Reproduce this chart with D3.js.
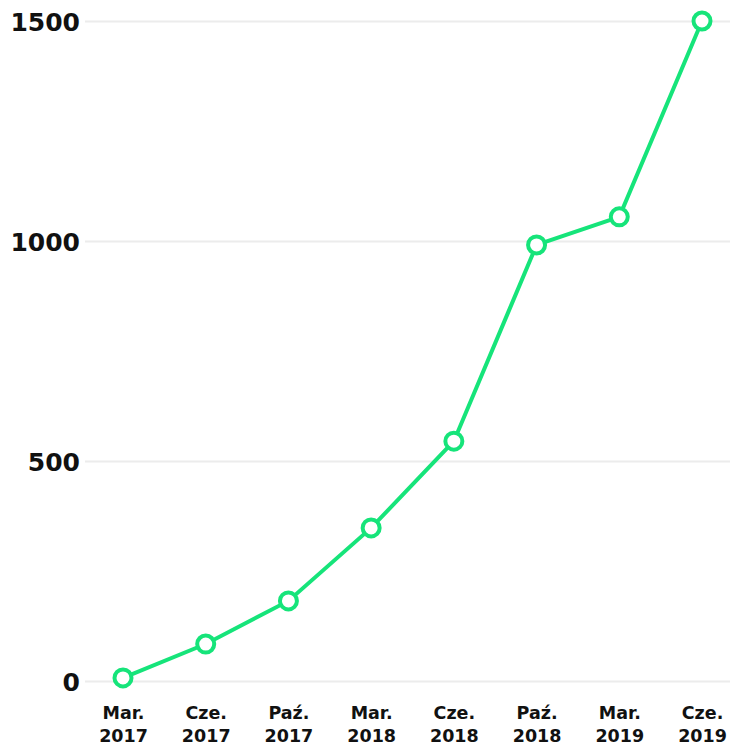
<!DOCTYPE html>
<html lang="pl">
<head>
<meta charset="utf-8">
<script src="https://d3js.org/d3.v7.min.js"></script>
<style>
  body, html { margin: 0; padding: 0; background: #fff; }
  svg { display: block; }
  .tick text { font-family: "DejaVu Sans", sans-serif; font-weight: bold; fill: #111; }
</style>
</head>
<body>
<svg id="chart" width="730" height="747"></svg>
<script>
var months = ["Mar.", "Cze.", "Paź.", "Mar.", "Cze.", "Paź.", "Mar.", "Cze."];
var years = ["2017", "2017", "2017", "2018", "2018", "2018", "2019", "2019"];
var values = [7, 84, 182, 348, 545, 991, 1055, 1500];
var yTicks = [0, 500, 1000, 1500];

var svg = d3.select("#chart");
var padLeft = 85, padRight = 730, padTop = 21, padBottom = 681;

var x = d3.scalePoint()
    .domain(d3.range(values.length))
    .range([123, 702]);
var y = d3.scaleLinear()
    .domain([0, 1500])
    .range([padBottom, padTop]);

// gridlines + y labels
var yAxis = svg.append("g")
    .attr("transform", "translate(" + padLeft + ",0)")
    .call(d3.axisRight(y).tickValues(yTicks).tickSize(padRight - padLeft).tickFormat(d3.format("d")));
yAxis.select(".domain").remove();
yAxis.selectAll(".tick line").attr("stroke", "#ececec").attr("stroke-width", 2);
yAxis.selectAll(".tick text")
    .attr("x", -5)
    .attr("dy", "0.38em")
    .attr("text-anchor", "end")
    .style("font-size", "25px");

// x labels
var xAxis = svg.append("g")
    .attr("transform", "translate(0," + padBottom + ")")
    .call(d3.axisBottom(x).tickSize(0).tickFormat(""));
xAxis.select(".domain").remove();
xAxis.selectAll(".tick text").remove();
xAxis.selectAll(".tick").each(function(d) {
    var t = d3.select(this).append("text")
        .attr("text-anchor", "middle")
        .style("font-size", "17.5px")
        .attr("fill", "#111");
    t.append("tspan").attr("x", 0).attr("y", 38).text(months[d]);
    t.append("tspan").attr("x", 0).attr("y", 61).text(years[d]);
});

var green = "#16e47a";
var line = d3.line()
    .x(function(d, i) { return x(i); })
    .y(function(d) { return y(d); });

svg.append("path")
    .datum(values)
    .attr("d", line)
    .attr("fill", "none")
    .attr("stroke", green)
    .attr("stroke-width", 4);

svg.selectAll("circle.pt")
    .data(values)
    .enter().append("circle")
    .attr("class", "pt")
    .attr("cx", function(d, i) { return x(i); })
    .attr("cy", function(d) { return y(d); })
    .attr("r", 8.5)
    .attr("fill", "#fff")
    .attr("stroke", green)
    .attr("stroke-width", 4);
</script>
</body>
</html>
